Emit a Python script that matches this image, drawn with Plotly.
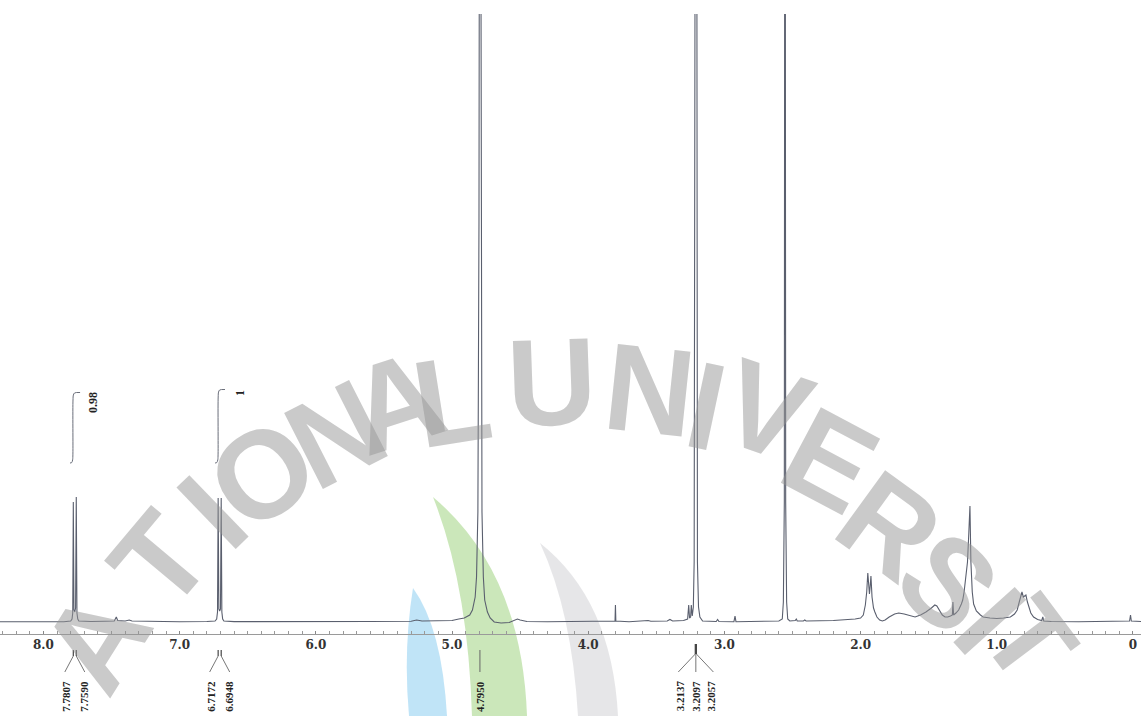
import plotly.graph_objects as go

# ---------------------------------------------------------------------------
# 1H NMR trace: chemical shift (ppm) and signal height above the baseline
# ---------------------------------------------------------------------------
SHIFT_PPM = [
    8.319, 8.10, 7.95, 7.85, 7.80, 7.790, 7.785, 7.7807, 7.776, 7.770, 7.764,
    7.7590, 7.754, 7.748, 7.74, 7.65, 7.55, 7.48, 7.465, 7.455, 7.40, 7.37,
    7.35, 7.20, 7.00, 6.80, 6.74, 6.728, 6.722, 6.7172, 6.712, 6.706, 6.700,
    6.6948, 6.690, 6.684, 6.675, 6.60, 6.40, 6.00, 5.60, 5.30, 5.26, 5.22,
    5.10, 5.00, 4.95, 4.91, 4.87, 4.85, 4.83, 4.82, 4.81, 4.802, 4.7950,
    4.788, 4.78, 4.77, 4.76, 4.74, 4.72, 4.69, 4.64, 4.58, 4.54, 4.52, 4.50,
    4.45, 4.30, 4.00, 3.82, 3.803, 3.80, 3.797, 3.70, 3.58, 3.56, 3.54, 3.42,
    3.40, 3.38, 3.30, 3.27, 3.262, 3.256, 3.248, 3.243, 3.236, 3.228, 3.222,
    3.2137, 3.2097, 3.2057, 3.198, 3.19, 3.18, 3.16, 3.10, 3.06, 3.05, 3.04,
    2.93, 2.922, 2.915, 2.75, 2.70, 2.60, 2.575, 2.567, 2.560, 2.555, 2.550,
    2.543, 2.535, 2.52, 2.48, 2.472, 2.465, 2.42, 2.41, 2.40, 2.20, 2.10,
    2.04, 2.00, 1.98, 1.965, 1.955, 1.947, 1.940, 1.935, 1.930, 1.924, 1.916,
    1.905, 1.895, 1.88, 1.86, 1.84, 1.82, 1.79, 1.75, 1.72, 1.68, 1.63, 1.60,
    1.56, 1.52, 1.48, 1.455, 1.44, 1.42, 1.40, 1.38, 1.36, 1.34, 1.326, 1.322,
    1.317, 1.30, 1.28, 1.26, 1.25, 1.24, 1.23, 1.215, 1.205, 1.197, 1.19,
    1.18, 1.17, 1.15, 1.12, 1.10, 1.05, 1.00, 0.95, 0.90, 0.87, 0.85, 0.835,
    0.825, 0.815, 0.805, 0.795, 0.786, 0.775, 0.765, 0.75, 0.73, 0.70, 0.67,
    0.662, 0.655, 0.60, 0.40, 0.20, 0.05, 0.025, 0.018, 0.012, -0.059,
]
INTENSITY = [
    0.3, 0.2, 0.5, 0.2, 1, 3, 9, 120, 12, 10, 14,
    125, 9, 3, 1, 0.5, 0.8, 1, 5, 1.5, 1, 2,
    1, 0.5, 0.3, 0.5, 1, 3, 10, 124, 13, 11, 13,
    124, 10, 3, 1, 0.4, 0.3, 0.3, 0.5, 0.8, 2, 1,
    1, 1.5, 3, 4, 7, 12, 25, 45, 110, 400, 1200,
    400, 110, 45, 22, 10, 4, 0, -1, -0.5, 2, 3, 2,
    0.5, 0.3, 0.3, 0.3, 1, 17, 1, 0.3, 0.8, 1.5, 0.8, 1,
    2.5, 1, 1.5, 3, 17, 4, 5, 17, 6, 15, 60,
    1200, 1200, 1200, 60, 15, 5, 1, 0.3, 0.5, 2.5, 0.5,
    0.3, 6, 0.3, 0.5, 1, 1, 3, 20, 120, 1200, 120,
    20, 3, 1, 1.5, 3, 1, 1, 2, 1, 1.5, 2,
    3, 4, 7, 17, 30, 49, 30, 28, 35, 46, 25,
    14, 10, 5, 2, 1, 2, 5, 8, 9, 8, 6, 5,
    7, 10, 14, 17, 16, 11, 7, 5, 5, 6, 7, 20,
    7, 9, 12, 18, 22, 30, 45, 60, 90, 116, 60,
    30, 18, 11, 7, 5, 4, 3.5, 4, 5, 8, 12, 20,
    25, 30, 25, 26, 27, 20, 15, 9, 5, 2.5, 1.5,
    5, 1, 0.5, 0.3, 0.3, 0.5, 1, 7, 1, 0.5,
]

# Picked peaks, grouped the way they are annotated under the axis
PEAK_GROUPS = [
    [7.7807, 7.7590],
    [6.7172, 6.6948],
    [4.7950],
    [3.2137, 3.2097, 3.2057],
]

# Integral curves and their values
INTEGRAL_A_PPM = [7.805, 7.792, 7.786, 7.784, 7.783, 7.780, 7.772, 7.731]
INTEGRAL_A_Y = [159, 159.5, 162, 166, 222, 227, 229, 229.5]
INTEGRAL_B_PPM = [6.740, 6.727, 6.720, 6.718, 6.717, 6.714, 6.706, 6.667]
INTEGRAL_B_Y = [159, 159.5, 162, 166, 225, 230, 232, 232.5]
INTEGRAL_VALUES = ["0.98", "1"]
INTEGRAL_LABEL_PPM = [7.636, 6.557]
INTEGRAL_LABEL_MID = [219, 229]

TICK_VALUES = [8, 7, 6, 5, 4, 3, 2, 1, 0]
TICK_LABELS = ["8.0", "7.0", "6.0", "5.0", "4.0", "3.0", "2.0", "1.0", "0"]

# ---------------------------------------------------------------------------
W, H = 1141, 716
TOP, AXIS_Y = 14, 634            # plot area top / x-axis line (pixels)
LINE = "#5a5f6e"


def paper_y(py):
    """Pixel row -> paper y coordinate."""
    return (AXIS_Y - py) / (AXIS_Y - TOP)


def paper_x(px):
    return px / W


fig = go.Figure()

fig.add_trace(go.Scatter(
    x=SHIFT_PPM, y=INTENSITY, mode="lines",
    line=dict(color=LINE, width=1.1), hoverinfo="skip", showlegend=False,
))
for xs, ys in ((INTEGRAL_A_PPM, INTEGRAL_A_Y), (INTEGRAL_B_PPM, INTEGRAL_B_Y)):
    fig.add_trace(go.Scatter(
        x=xs, y=ys, mode="lines", line=dict(color="#6a6e7a", width=1),
        line_shape="spline", hoverinfo="skip", showlegend=False,
    ))

annotations = []
shapes = []

# integral values
for txt, xp, ym in zip(INTEGRAL_VALUES, INTEGRAL_LABEL_PPM, INTEGRAL_LABEL_MID):
    annotations.append(dict(
        x=xp, y=ym, xref="x", yref="y", text=txt, showarrow=False,
        textangle=-90, xanchor="center", yanchor="middle",
        font=dict(family="Liberation Serif", size=12, color="#222", weight="bold"),
    ))

# peak-pick leaders and labels
for group in PEAK_GROUPS:
    n = len(group)
    mid = (n - 1) / 2
    if n == 1:
        shapes.append(dict(type="line", xref="x", yref="paper",
                           x0=group[0], x1=group[0],
                           y0=paper_y(650), y1=paper_y(672),
                           line=dict(color="#666", width=1)))
    else:
        v_top, v_bot = (644, 654) if n == 3 else (650, 656)
        for i, p in enumerate(group):
            shapes.append(dict(type="line", xref="x", yref="paper",
                               x0=p, x1=p, y0=paper_y(v_top), y1=paper_y(v_bot),
                               line=dict(color="#444", width=1.2)))
            shapes.append(dict(type="line", xref="x", yref="paper",
                               xsizemode="pixel", xanchor=p,
                               x0=0, x1=(i - mid) * 17,
                               y0=paper_y(v_bot), y1=paper_y(672),
                               line=dict(color="#777", width=1)))
    for i, p in enumerate(group):
        annotations.append(dict(
            x=p, y=paper_y(696), xref="x", yref="paper", xshift=(i - mid) * 15,
            text=f"{p:.4f}", showarrow=False, textangle=-90,
            xanchor="center", yanchor="middle",
            font=dict(family="Liberation Serif", size=11, color="#222", weight="bold"),
        ))

# faint background seal: three crescents and the arched lettering
def px_path(points_cmd):
    out = []
    for tok in points_cmd:
        if isinstance(tok, str):
            out.append(tok)
        else:
            x, y = tok
            out.append(f"{paper_x(x):.5f},{paper_y(y):.5f}")
    return " ".join(out)


crescents = [
    ("rgba(140,205,240,0.55)",
     ["M", (413, 588), "Q", (403, 650), (409, 716), "L", (447, 716), "Q", (442, 628), (413, 588), "Z"]),
    ("rgba(160,212,130,0.55)",
     ["M", (433, 497), "Q", (468, 585), (472, 716), "L", (527, 716), "Q", (522, 572), (433, 497), "Z"]),
    ("rgba(205,205,210,0.5)",
     ["M", (540, 543), "Q", (572, 612), (578, 716), "L", (618, 716), "Q", (612, 600), (540, 543), "Z"]),
]
for color, cmd in crescents:
    shapes.append(dict(type="path", xref="paper", yref="paper", layer="below",
                       path=px_path(cmd), fillcolor=color, line=dict(width=0)))

seal_letters = [
    ("A", 96, 640, -58, 124), ("T", 160, 560, -50, 124), ("I", 212, 512, -44, 124),
    ("O", 262, 474, -36, 124), ("N", 336, 434, -27, 124), ("A", 396, 402, -18, 124),
    ("L", 452, 400, -9, 124), ("U", 552, 382, -2, 124), ("N", 650, 390, 6, 124),
    ("I", 706, 406, 12, 124), ("V", 766, 410, 19, 124), ("E", 830, 460, 28, 124),
    ("R", 890, 526, 36, 124), ("S", 948, 582, 42, 124), ("I", 990, 620, 48, 120),
    ("T", 1030, 640, 53, 114),
]
for ch, x, y, ang, size in seal_letters:
    annotations.append(dict(
        x=paper_x(x), y=paper_y(y), xref="paper", yref="paper", text=ch,
        showarrow=False, textangle=ang, xanchor="center", yanchor="middle",
        font=dict(family="Liberation Sans", size=size, color="rgba(150,150,150,0.5)",
                  weight="bold"),
    ))

fig.update_layout(
    width=W, height=H, autosize=False,
    margin=dict(l=0, r=0, t=TOP, b=H - AXIS_Y, pad=0),
    paper_bgcolor="white", plot_bgcolor="rgba(0,0,0,0)",
    showlegend=False,
    xaxis=dict(
        range=[8.319, -0.059], tickmode="array", tickvals=TICK_VALUES,
        ticktext=TICK_LABELS, ticks="inside", ticklen=3, tickcolor="#888",
        showline=True, linecolor="#9a9a9a", linewidth=1, showgrid=False,
        zeroline=False,
        tickfont=dict(family="DejaVu Serif", size=12, color="#333", weight="bold"),
        minor=dict(tickmode="linear", tick0=0, dtick=0.1, ticks="inside",
                   ticklen=3, tickcolor="#999", showgrid=False),
    ),
    yaxis=dict(range=[-12, 608], visible=False, showgrid=False, zeroline=False),
    annotations=annotations,
    shapes=shapes,
)

fig.write_html("out.html")
